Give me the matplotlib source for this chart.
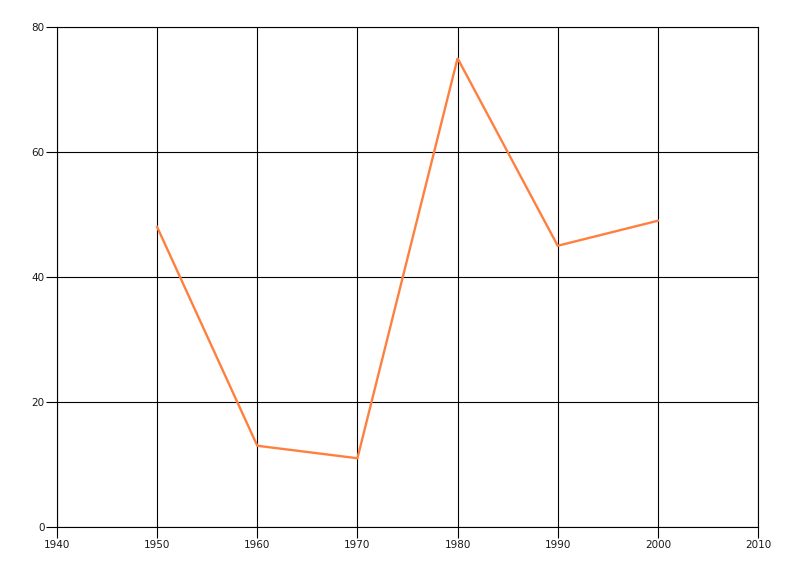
# Line chart of values per decade.

import matplotlib.pyplot as plt

years = [1950, 1960, 1970, 1980, 1990, 2000]
values = [48, 13, 11, 75, 45, 49]
x_ticks = [1940, 1950, 1960, 1970, 1980, 1990, 2000, 2010]
y_ticks = [0, 20, 40, 60, 80]

fig = plt.figure(figsize=(8, 5.76), dpi=100)
ax = fig.add_axes([57 / 800, 1 - 527 / 576, 701 / 800, 500 / 576])

ax.plot(years, values, color="#ff7f3f", linewidth=1.7, solid_joinstyle="miter")

ax.set_xlim(1940, 2010)
ax.set_ylim(0, 80)
ax.set_xticks(x_ticks)
ax.set_yticks(y_ticks)
ax.tick_params(direction="out", length=8, width=0.8, color="black",
               labelsize=7.5, labelcolor="#1a1a1a", pad=1)
ax.grid(True, color="black", linewidth=0.8)
for spine in ax.spines.values():
    spine.set_color("black")
    spine.set_linewidth(0.8)

fig.savefig("out.png", dpi=100)
